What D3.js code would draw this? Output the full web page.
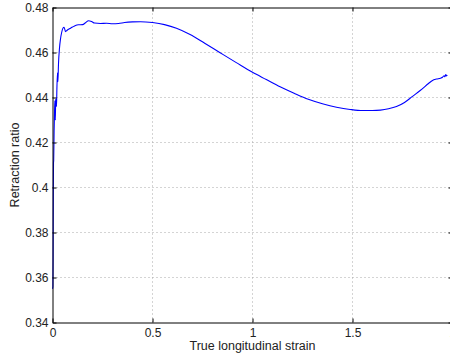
<!DOCTYPE html>
<html>
<head>
<meta charset="utf-8">
<script src="https://cdn.jsdelivr.net/npm/d3@7"></script>
<style>
  html, body { margin: 0; padding: 0; background: #fff; overflow: hidden; }
  svg { display: block; }
  text { font-family: "Liberation Sans", Arial, Helvetica, sans-serif; fill: #222; }
</style>
</head>
<body>
<svg id="chart" width="450" height="358"></svg>
<script>
// Retraction ratio vs. true longitudinal strain
const strain = [0.000, 0.002, 0.003, 0.004, 0.005, 0.006, 0.008, 0.010, 0.012, 0.014, 0.016, 0.018,
  0.020, 0.022, 0.025, 0.027, 0.030, 0.035, 0.040, 0.046, 0.052, 0.058, 0.065, 0.072, 0.080,
  0.090, 0.100, 0.115, 0.130, 0.150, 0.165, 0.180, 0.195, 0.210, 0.240, 0.270, 0.300, 0.330,
  0.360, 0.400, 0.440, 0.500, 0.560, 0.620, 0.688, 0.763, 0.838, 0.919, 1.000, 1.069, 1.138,
  1.208, 1.279, 1.354, 1.420, 1.488, 1.550, 1.600, 1.640, 1.680, 1.720, 1.760,
  1.800, 1.840, 1.880, 1.900, 1.920, 1.940, 1.950, 1.958, 1.962, 1.966, 1.970, 1.974];
const ratio = [0.3550, 0.3560, 0.3700, 0.3950, 0.4110, 0.4120, 0.4250, 0.4330, 0.4385, 0.4300, 0.4390, 0.4392,
  0.4360, 0.4440, 0.4510, 0.4470, 0.4550, 0.4620, 0.4660, 0.4690, 0.4708, 0.4712, 0.4693, 0.4698, 0.4703,
  0.4708, 0.4713, 0.4720, 0.4723, 0.4724, 0.4732, 0.4741, 0.4738, 0.4731, 0.4729, 0.4730, 0.4728, 0.4729,
  0.4733, 0.4736, 0.4737, 0.4733, 0.4724, 0.4708, 0.4680, 0.4640, 0.4599, 0.4555, 0.4512, 0.4480, 0.4448,
  0.4419, 0.4392, 0.4371, 0.4357, 0.4347, 0.4342, 0.4342, 0.4344, 0.4350, 0.4360, 0.4378,
  0.4405, 0.4432, 0.4462, 0.4476, 0.4482, 0.4486, 0.4490, 0.4497, 0.4492, 0.4502, 0.4496, 0.4500];

const xTicks = [0, 0.5, 1, 1.5, 2];
const yTicks = [0.34, 0.36, 0.38, 0.40, 0.42, 0.44, 0.46, 0.48];
const xTickLabels = ["0", "0.5", "1", "1.5", "2"];
const yTickLabels = ["0.34", "0.36", "0.38", "0.4", "0.42", "0.44", "0.46", "0.48"];
const xTitle = "True longitudinal strain";
const yTitle = "Retraction ratio";

const svg = d3.select("#chart");
const plotL = 52.5, plotR = 452.5, plotT = 7.5, plotB = 322.5;

const x = d3.scaleLinear().domain([0, 2]).range([plotL, plotR]);
const y = d3.scaleLinear().domain([0.34, 0.48]).range([plotB, plotT]);

// dotted grid
const grid = svg.append("g").attr("stroke", "#a8a8a8").attr("stroke-width", 1)
  .attr("stroke-dasharray", "1,3");
grid.selectAll("line.gx").data(xTicks.slice(1)).join("line").attr("class", "gx")
  .attr("x1", d => x(d)).attr("x2", d => x(d)).attr("y1", plotB).attr("y2", plotT);
grid.selectAll("line.gy").data(yTicks.slice(1, -1)).join("line").attr("class", "gy")
  .attr("x1", plotL).attr("x2", plotR).attr("y1", d => y(d)).attr("y2", d => y(d));

// data line
const line = d3.line().x((d, i) => x(strain[i])).y(d => y(d)).curve(d3.curveMonotoneX);
svg.append("path").datum(ratio)
  .attr("fill", "none").attr("stroke", "#0000ff").attr("stroke-width", 1.1)
  .attr("stroke-linejoin", "round")
  .attr("d", line);

// axes with inward ticks (box style)
const tickLen = 4;
const axB = d3.axisBottom(x).tickValues(xTicks).tickFormat((d, i) => xTickLabels[i])
  .tickSizeInner(-tickLen).tickSizeOuter(0).tickPadding(6);
const axT = d3.axisTop(x).tickValues(xTicks).tickFormat("")
  .tickSizeInner(-tickLen).tickSizeOuter(0);
const axL = d3.axisLeft(y).tickValues(yTicks).tickFormat((d, i) => yTickLabels[i])
  .tickSizeInner(-tickLen).tickSizeOuter(0).tickPadding(4);
const axR = d3.axisRight(y).tickValues(yTicks).tickFormat("")
  .tickSizeInner(-tickLen).tickSizeOuter(0);

function style(g) {
  g.select(".domain").attr("stroke", "#000").attr("stroke-width", 1);
  g.selectAll(".tick line").attr("stroke", "#000").attr("stroke-width", 1);
  g.selectAll(".tick text").attr("font-size", 12).attr("fill", "#222")
    .attr("font-family", "'Liberation Sans', Arial, sans-serif");
}
svg.append("g").attr("transform", `translate(0,${plotB})`).call(axB).call(style);
svg.append("g").attr("transform", `translate(0,${plotT})`).call(axT).call(style);
svg.append("g").attr("transform", `translate(${plotL},0)`).call(axL).call(style);
svg.append("g").attr("transform", `translate(${plotR},0)`).call(axR).call(style);

// titles
svg.append("text").attr("x", 252.5).attr("y", 350).attr("text-anchor", "middle")
  .attr("font-size", 12.5).text(xTitle);
svg.append("text").attr("transform", "translate(19,165) rotate(-90)")
  .attr("text-anchor", "middle").attr("font-size", 12.5).text(yTitle);
</script>
</body>
</html>
